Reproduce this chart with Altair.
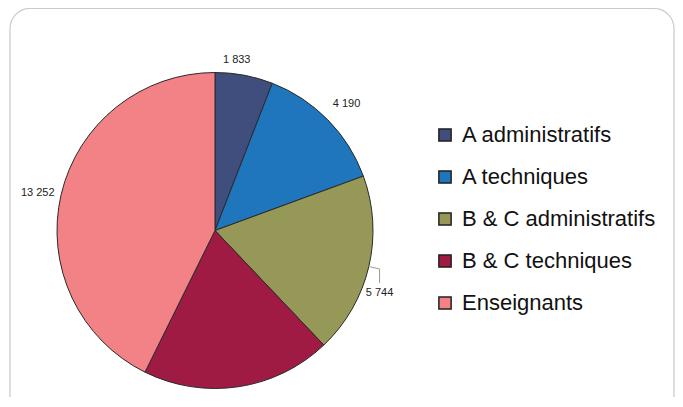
import altair as alt
import pandas as pd

categories = ["A administratifs", "A techniques", "B & C administratifs", "B & C techniques", "Enseignants"]
values = [1833, 4190, 5744, 6020, 13252]
labels = ["1 833", "4 190", "5 744", "", "13 252"]
colors = ["#3f4e7c", "#1f76bd", "#969857", "#a01b44", "#f28286"]

df = pd.DataFrame({"cat": categories, "value": values, "label": labels, "order": list(range(len(categories)))})

W, H = 667, 389
CX, CY, R = 207, 222.5, 158

base = (
    alt.Chart(df)
    .transform_window(cum="sum(value)", sort=[alt.SortField("order")])
    .transform_joinaggregate(total="sum(value)")
    .transform_calculate(mid="2*PI*(datum.cum - datum.value/2)/datum.total")
)

frame = alt.Chart(pd.DataFrame({"f": [0]})).mark_rect(
    fill="white", stroke="#c9c9c9", strokeWidth=1.2, cornerRadius=20
).encode(x=alt.value(2), x2=alt.value(W - 1), y=alt.value(0.5), y2=alt.value(H + 40))

pie = alt.Chart(df).mark_arc(radius=R, stroke="#2a2a2a", strokeWidth=1).encode(
    theta=alt.Theta("value:Q", stack=True),
    order=alt.Order("order:Q"),
    color=alt.Color(
        "cat:N",
        sort=categories,
        scale=alt.Scale(domain=categories, range=colors),
        legend=alt.Legend(
            title=None, orient="none", legendX=426, legendY=116, padding=0,
            symbolType="square", symbolSize=150, symbolStrokeColor="#222",
            symbolStrokeWidth=1.5, symbolOpacity=1,
            labelFontSize=22, labelFont="Liberation Sans", labelColor="#111",
            labelOffset=6, rowPadding=20, labelLimit=400,
        ),
    ),
    x=alt.value(CX),
    y=alt.value(CY),
)

def label_layer(cat, lr, dx, dy):
    return (
        base.transform_filter(alt.datum.cat == cat)
        .transform_calculate(
            lx=f"{CX} + {lr}*sin(datum.mid)", ly=f"{CY} - {lr}*cos(datum.mid)"
        )
        .mark_text(fontSize=11, font="Liberation Sans", color="#222", dx=dx, dy=dy)
        .encode(
            x=alt.X("lx:Q", scale=None, axis=None),
            y=alt.Y("ly:Q", scale=None, axis=None),
            text="label:N",
        )
    )

l1 = label_layer("A administratifs", 172, -10, -1)
l2 = label_layer("A techniques", 180, 3, 0)
l5 = label_layer("Enseignants", 180, -2, 3)

lead_src = base.transform_filter(alt.datum.cat == "B & C administratifs").transform_calculate(
    x1=f"{CX} + {R + 1}*sin(datum.mid)", y1=f"{CY} - {R + 1}*cos(datum.mid)",
    x2=f"{CX} + {R + 11}*sin(datum.mid)", y2=f"{CY} - {R + 11}*cos(datum.mid)",
    y3=f"{CY} - {R + 11}*cos(datum.mid) + 14",
)
lead1 = lead_src.mark_rule(color="#9a9a9a", strokeWidth=1).encode(
    x=alt.X("x1:Q", scale=None, axis=None), y=alt.Y("y1:Q", scale=None, axis=None),
    x2="x2:Q", y2="y2:Q",
)
lead2 = lead_src.mark_rule(color="#9a9a9a", strokeWidth=1).encode(
    x=alt.X("x2:Q", scale=None, axis=None), y=alt.Y("y2:Q", scale=None, axis=None),
    y2="y3:Q",
)
l3 = lead_src.mark_text(fontSize=11, font="Liberation Sans", color="#222", baseline="top", dy=4).encode(
    x=alt.X("x2:Q", scale=None, axis=None), y=alt.Y("y3:Q", scale=None, axis=None), text="label:N"
)

chart = (
    alt.layer(frame, pie, lead1, lead2, l1, l2, l3, l5)
    .properties(width=W, height=H, padding=0, autosize=alt.AutoSizeParams(type="none"), background="white")
    .configure_view(strokeWidth=0)
)

chart.save("out.html", embed_options={"renderer": "svg", "actions": False})
